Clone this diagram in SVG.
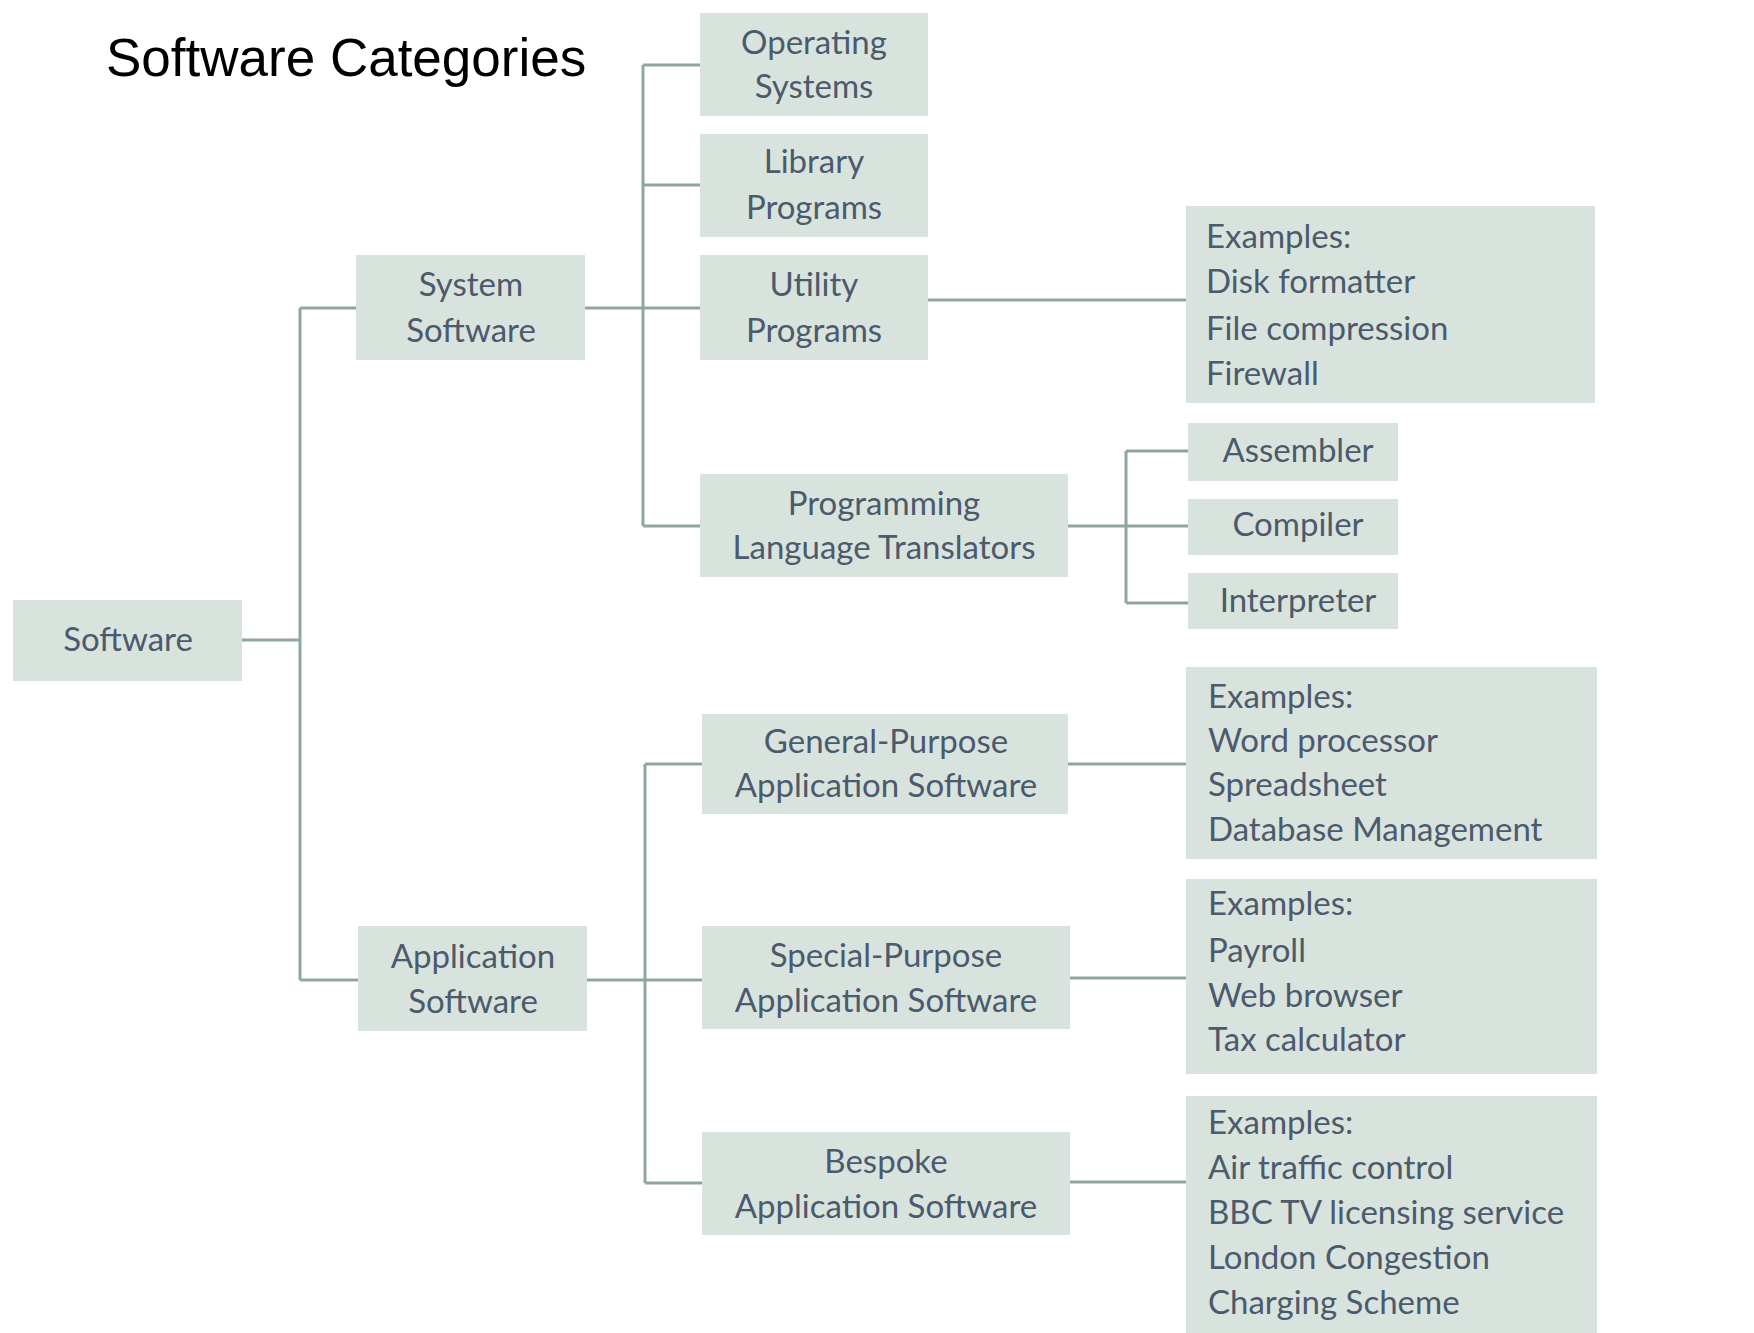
<svg xmlns="http://www.w3.org/2000/svg" width="1754" height="1333" viewBox="0 0 1754 1333">
<style>
.box{fill:#d9e3dd;}
.t{font-family:Lato,"Open Sans","Liberation Sans",sans-serif;font-size:33px;fill:#4b5a6c;}
.c{text-anchor:middle;}
.ln{stroke:#8fa79a;stroke-width:3;fill:none;}
.title{font-family:"Liberation Sans",Arial,sans-serif;font-size:53px;fill:#000;}
</style>
<rect width="1754" height="1333" fill="#ffffff"/>
<text class="title" x="106" y="76">Software Categories</text>
<g id="connectors">
<path class="ln" d="M242 640H300M300 308V980M300 308H356M300 980H358"/>
<path class="ln" d="M585 308H643M643 65V526M643 65H700M643 185H700M643 308H700M643 526H700"/>
<path class="ln" d="M587 980H645M645 764V1183M645 764H702M645 980H702M645 1183H702"/>
<path class="ln" d="M928 300H1186"/>
<path class="ln" d="M1068 526H1126M1126 451V603M1126 451H1188M1126 526H1188M1126 603H1188"/>
<path class="ln" d="M1068 764H1186M1070 978H1186M1070 1182H1186"/>
</g>
<g id="software"><rect class="box" x="13" y="600" width="229" height="81"/><text class="t c" x="128" y="651">Software</text></g>
<g id="system"><rect class="box" x="356" y="255" width="229" height="105"/><text class="t c" x="471" y="296">System</text><text class="t c" x="471" y="342">Software</text></g>
<g id="application"><rect class="box" x="358" y="926" width="229" height="105"/><text class="t c" x="473" y="968">Application</text><text class="t c" x="473" y="1013">Software</text></g>
<g id="os"><rect class="box" x="700" y="13" width="228" height="103"/><text class="t c" x="814" y="54">Operating</text><text class="t c" x="814" y="98">Systems</text></g>
<g id="library"><rect class="box" x="700" y="134" width="228" height="103"/><text class="t c" x="814" y="173">Library</text><text class="t c" x="814" y="219">Programs</text></g>
<g id="utility"><rect class="box" x="700" y="255" width="228" height="105"/><text class="t c" x="814" y="296">Utility</text><text class="t c" x="814" y="342">Programs</text></g>
<g id="plt"><rect class="box" x="700" y="474" width="368" height="103"/><text class="t c" x="884" y="515">Programming</text><text class="t c" x="884" y="559">Language Translators</text></g>
<g id="general"><rect class="box" x="702" y="714" width="366" height="100"/><text class="t c" x="886" y="753">General-Purpose</text><text class="t c" x="886" y="797">Application Software</text></g>
<g id="special"><rect class="box" x="702" y="926" width="368" height="103"/><text class="t c" x="886" y="967">Special-Purpose</text><text class="t c" x="886" y="1012">Application Software</text></g>
<g id="bespoke"><rect class="box" x="702" y="1132" width="368" height="103"/><text class="t c" x="886" y="1173">Bespoke</text><text class="t c" x="886" y="1218">Application Software</text></g>
<g id="utility-examples"><rect class="box" x="1186" y="206" width="409" height="197"/><text class="t" x="1206" y="248">Examples:</text><text class="t" x="1206" y="293">Disk formatter</text><text class="t" x="1206" y="340">File compression</text><text class="t" x="1206" y="385">Firewall</text></g>
<g id="assembler"><rect class="box" x="1188" y="423" width="210" height="58"/><text class="t c" x="1298" y="462">Assembler</text></g>
<g id="compiler"><rect class="box" x="1188" y="499" width="210" height="56"/><text class="t c" x="1298" y="536">Compiler</text></g>
<g id="interpreter"><rect class="box" x="1188" y="573" width="210" height="56"/><text class="t c" x="1298" y="612">Interpreter</text></g>
<g id="general-examples"><rect class="box" x="1186" y="667" width="411" height="192"/><text class="t" x="1208" y="708">Examples:</text><text class="t" x="1208" y="752">Word processor</text><text class="t" x="1208" y="796">Spreadsheet</text><text class="t" x="1208" y="841">Database Management</text></g>
<g id="special-examples"><rect class="box" x="1186" y="879" width="411" height="195"/><text class="t" x="1208" y="915">Examples:</text><text class="t" x="1208" y="962">Payroll</text><text class="t" x="1208" y="1007">Web browser</text><text class="t" x="1208" y="1051">Tax calculator</text></g>
<g id="bespoke-examples"><rect class="box" x="1186" y="1096" width="411" height="237"/><text class="t" x="1208" y="1134">Examples:</text><text class="t" x="1208" y="1179">Air traffic control</text><text class="t" x="1208" y="1224">BBC TV licensing service</text><text class="t" x="1208" y="1269">London Congestion</text><text class="t" x="1208" y="1314">Charging Scheme</text></g>
</svg>
